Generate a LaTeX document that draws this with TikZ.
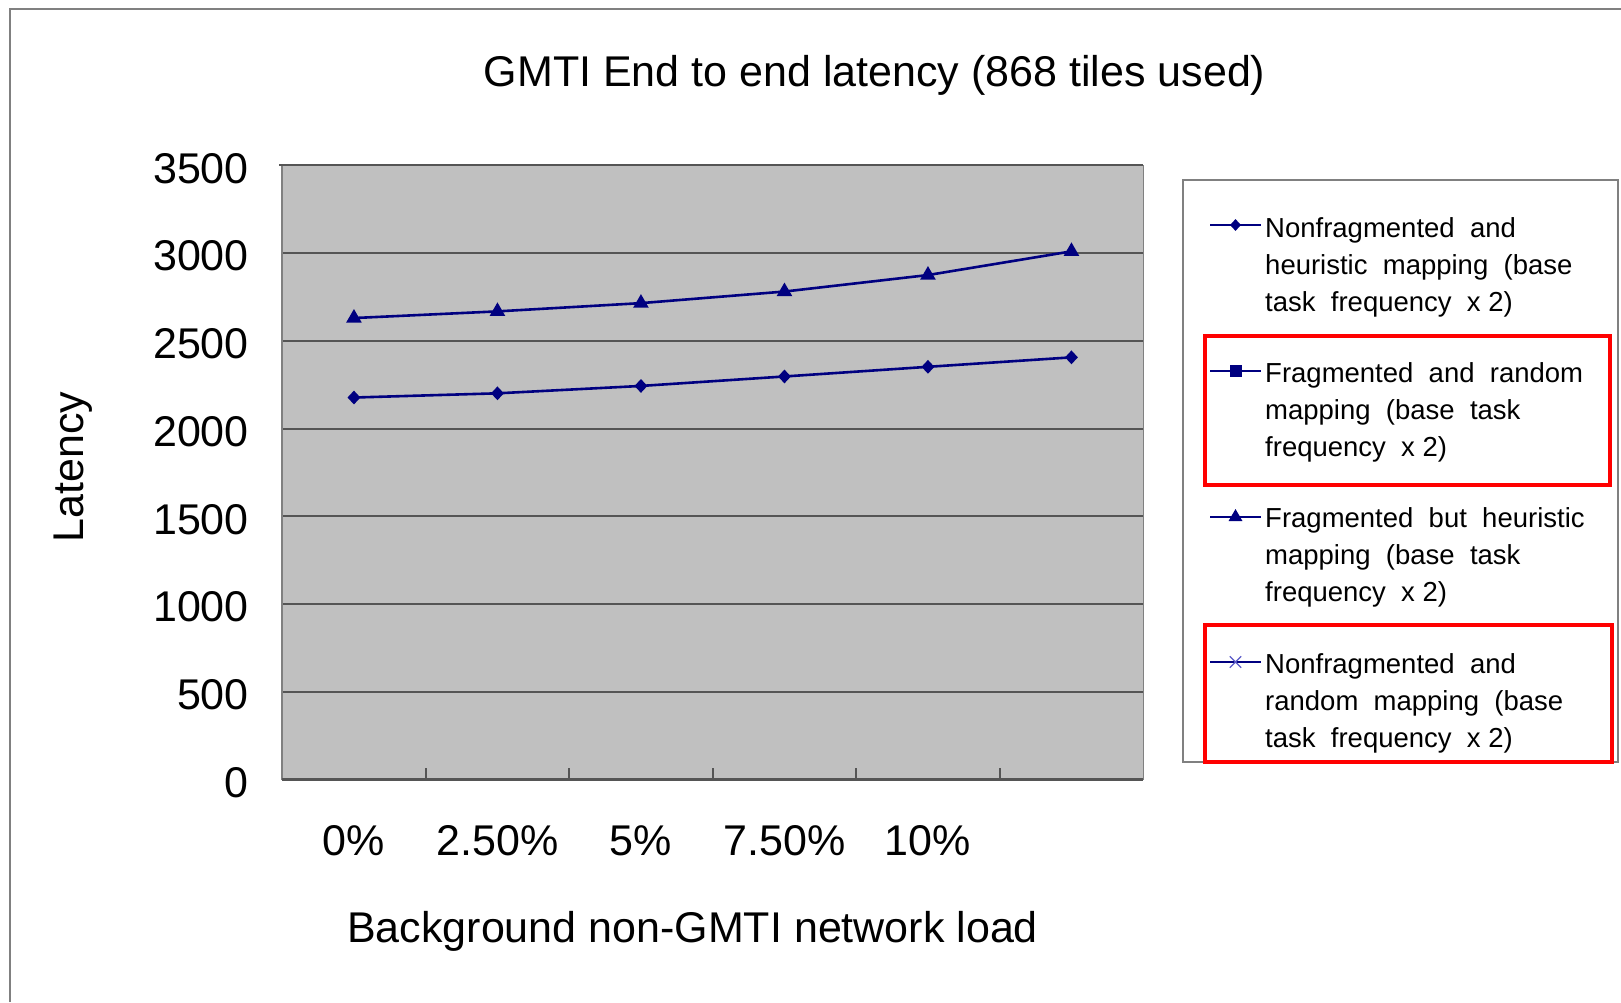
\documentclass[tikz,border=0pt]{standalone}
\usepackage{fontspec}
\setmainfont{Liberation Sans}
\usetikzlibrary{shapes.geometric}

\definecolor{seriesblue}{RGB}{0,0,128}
\definecolor{seriesviolet}{RGB}{90,90,200}
\definecolor{plotgray}{RGB}{192,192,192}
\definecolor{framegray}{RGB}{128,128,128}
\definecolor{gridblack}{RGB}{85,85,85}
\definecolor{boxred}{RGB}{255,0,0}

\tikzset{
  bigtext/.style={font=\fontsize{43}{50}\selectfont, inner sep=0pt},
  legtext/.style={font=\fontsize{27.5}{37}\selectfont, inner sep=0pt, anchor=base west},
  dmark/.style={diamond, fill=seriesblue, draw=none, inner sep=0pt, minimum width=13pt, minimum height=14pt},
  tmark/.style={regular polygon, regular polygon sides=3, fill=seriesblue, draw=none, inner sep=0pt, minimum size=18pt},
  smark/.style={rectangle, fill=seriesblue, draw=none, inner sep=0pt, minimum size=12pt},
  xmark/.style={inner sep=0pt, minimum size=11pt},
  series/.style={seriesblue, line width=2.6pt, line join=round},
  gridline/.style={gridblack, line width=2pt},
  redbox/.style={boxred, line width=4pt},
}

\begin{document}
\begin{tikzpicture}[x=1pt, y=-1pt]
\useasboundingbox (0,0) rectangle (1621,1002);
\fill[white] (0,0) rectangle (1621,1002);

% outer chart frame (only left and top edges fall inside the page)
\draw[framegray, line width=2pt] (10,1002) -- (10,9) -- (1621,9);

% title
\node[bigtext, anchor=base] (title) at (874.6,86) {GMTI End to end latency (868 tiles used)};

% plot area
\fill[plotgray] (282.2,165.4) rectangle (1143.4,779.5);
\foreach \k in {1,...,6}
  \draw[gridline] (282.2,{779.5-87.73*\k}) -- (1143.4,{779.5-87.73*\k});
\draw[framegray, line width=1.6pt] (282.2,779.5) -- (282.2,165.4);
\draw[framegray, line width=1.6pt] (1143.4,165.4) -- (1143.4,779.5);
\draw[gridline] (279,165.4) -- (1143.4,165.4);
\draw[gridblack, line width=2.2pt] (282.2,779.5) -- (1143.4,779.5);
\foreach \k in {1,...,5}
  \draw[gridblack, line width=1.6pt] ({282.2+143.5*\k},779.5) -- ({282.2+143.5*\k},768);

% value axis labels
\foreach \v [count=\k from 0] in {0,500,1000,1500,2000,2500,3000,3500}
  \node[bigtext, anchor=east] (ylab\k) at (249,{779.5-87.73*\k+3}) {\v};

% category axis labels
\foreach \c [count=\k from 0] in {0\%,2.50\%,5\%,7.50\%,10\%}
  \node[bigtext, anchor=center] (xlab\k) at ({282.2+143.5*(\k+0.5)},840.5) {\c};

% axis titles
\node[bigtext, anchor=base] (xtitle) at (692.6,942.5) {Background non-GMTI network load};
\node[bigtext, anchor=base, rotate=90] (ytitle) at (83.5,467) {Latency};

% data series: x in category units, y in latency units (upwards)
\begin{scope}[shift={(282.2,779.5)}, x=143.5pt, y=0.17546pt]
  \foreach \v [count=\k from 0] in {2630,2668,2715,2781,2875,3010}
    \coordinate (tp\k) at ({\k+0.5},\v);
  \foreach \v [count=\k from 0] in {2177,2201,2243,2297,2352,2406}
    \coordinate (dp\k) at ({\k+0.5},\v);
\end{scope}
\draw[series] (tp0) -- (tp1) -- (tp2) -- (tp3) -- (tp4) -- (tp5);
\draw[series] (dp0) -- (dp1) -- (dp2) -- (dp3) -- (dp4) -- (dp5);
\foreach \k in {0,...,5} {
  \node[tmark] (tri\k) at (tp\k) {};
  \node[dmark] (dia\k) at (dp\k) {};
}

% legend frame
\draw[framegray, line width=2pt] (1183,180) rectangle (1618,762);

% legend samples
\coordinate (la0) at (1210,225);   \coordinate (lb0) at (1261,225);
\coordinate (la1) at (1210,371);   \coordinate (lb1) at (1261,371);
\coordinate (la2) at (1210,517);   \coordinate (lb2) at (1261,517);
\coordinate (la3) at (1210,662);   \coordinate (lb3) at (1261,662);
\draw[series, line width=2.2pt] (la0) -- (lb0);
\node[dmark, minimum width=11pt, minimum height=12pt] (legm0) at (1235.5,225) {};
\draw[series, line width=2.2pt] (la1) -- (lb1);
\node[smark] (legm1) at (1235.5,371) {};
\draw[series, line width=2.2pt] (la2) -- (lb2);
\node[tmark, minimum size=16pt] (legm2) at (1235.5,517) {};
\draw[series, line width=2.2pt] (la3) -- (lb3);
\node[xmark] (legm3) at (1235.5,662) {};
\draw[seriesviolet, line width=1.3pt] (legm3.north west) -- (legm3.south east)
  (legm3.south west) -- (legm3.north east);

% legend texts
\node[legtext] (l0a) at (1265,237.5) {Nonfragmented\ \ and};
\node[legtext] (l0b) at (1265,274.5) {heuristic\ \ mapping\ \ (base};
\node[legtext] (l0c) at (1265,311.5) {task\ \ frequency\ \ x 2)};
\node[legtext] (l1a) at (1265,382.7) {Fragmented\ \ and\ \ random};
\node[legtext] (l1b) at (1265,419.7) {mapping\ \ (base\ \ task};
\node[legtext] (l1c) at (1265,456.7) {frequency\ \ x 2)};
\node[legtext] (l2a) at (1265,527.9) {Fragmented\ \ but\ \ heuristic};
\node[legtext] (l2b) at (1265,564.9) {mapping\ \ (base\ \ task};
\node[legtext] (l2c) at (1265,601.9) {frequency\ \ x 2)};
\node[legtext] (l3a) at (1265,673.1) {Nonfragmented\ \ and};
\node[legtext] (l3b) at (1265,710.1) {random\ \ mapping\ \ (base};
\node[legtext] (l3c) at (1265,747.1) {task\ \ frequency\ \ x 2)};

% highlight boxes
\draw[redbox] (1205,336) rectangle (1610,485);
\draw[redbox] (1205,625) rectangle (1612,762);
\end{tikzpicture}
\end{document}
